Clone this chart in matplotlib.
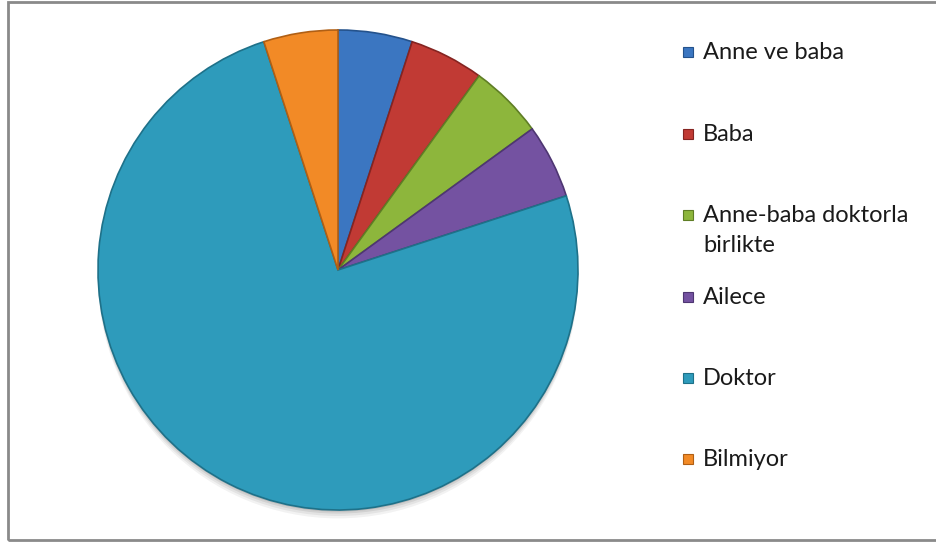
import matplotlib.pyplot as plt
from matplotlib.patches import Rectangle, Circle

# veriler (okunan oranlar, %)
labels = ['Anne ve baba', 'Baba', 'Anne-baba doktorla\nbirlikte', 'Ailece', 'Doktor', 'Bilmiyor']
values = [5, 5, 5, 5, 75, 5]
colors = ['#3B76C1', '#C13A34', '#8DB63C', '#7452A1', '#2E9BBB', '#F28A26']
edges = ['#24528C', '#852421', '#5F7E25', '#4E3672', '#1E7189', '#B05F14']

plt.rcParams['font.family'] = ['Lato', 'DejaVu Sans']

W, H = 936, 542
fig = plt.figure(figsize=(W / 100, H / 100), dpi=100)

# pasta: merkez (338, 270) px, yaricap 240 px
cx, cy, r = 338, 270, 240
ax = fig.add_axes([(cx - r) / W, (H - cy - r) / H, 2 * r / W, 2 * r / H])

# golge
for k, a in [(0.035, 0.05), (0.025, 0.06), (0.015, 0.08), (0.007, 0.1)]:
    ax.add_patch(Circle((0.0, -k), 1.0, color='#000000', alpha=a, lw=0,
                        zorder=0, clip_on=False))
wedges, _ = ax.pie(values, colors=colors, startangle=90, counterclock=False,
                   radius=1.0, wedgeprops=dict(linewidth=1.2))
for w, ec in zip(wedges, edges):
    w.set_edgecolor(ec)
    w.set_zorder(2)
ax.set_xlim(-1, 1)
ax.set_ylim(-1, 1)
ax.set_aspect('equal')
ax.axis('off')

# lejant (elle yerlestirildi)
ys = [52, 134, 215, 297, 378, 459]
for lab, col, ec, y in zip(labels, colors, edges, ys):
    fig.add_artist(Rectangle((683 / W, (H - y - 5) / H), 10 / W, 10 / H,
                             transform=fig.transFigure, facecolor=col,
                             edgecolor=ec, lw=0.8))
    fig.text(703 / W, (H - y + 10) / H, lab, fontsize=17, color='#1a1a1a',
             va='top', ha='left', linespacing=1.55)

# cerceve
fig.add_artist(Rectangle((8 / W, 2 / H), 940 / W, 538 / H, transform=fig.transFigure,
                         fill=False, edgecolor='#8a8a8a', lw=2))

fig.savefig('out.png', dpi=100)
